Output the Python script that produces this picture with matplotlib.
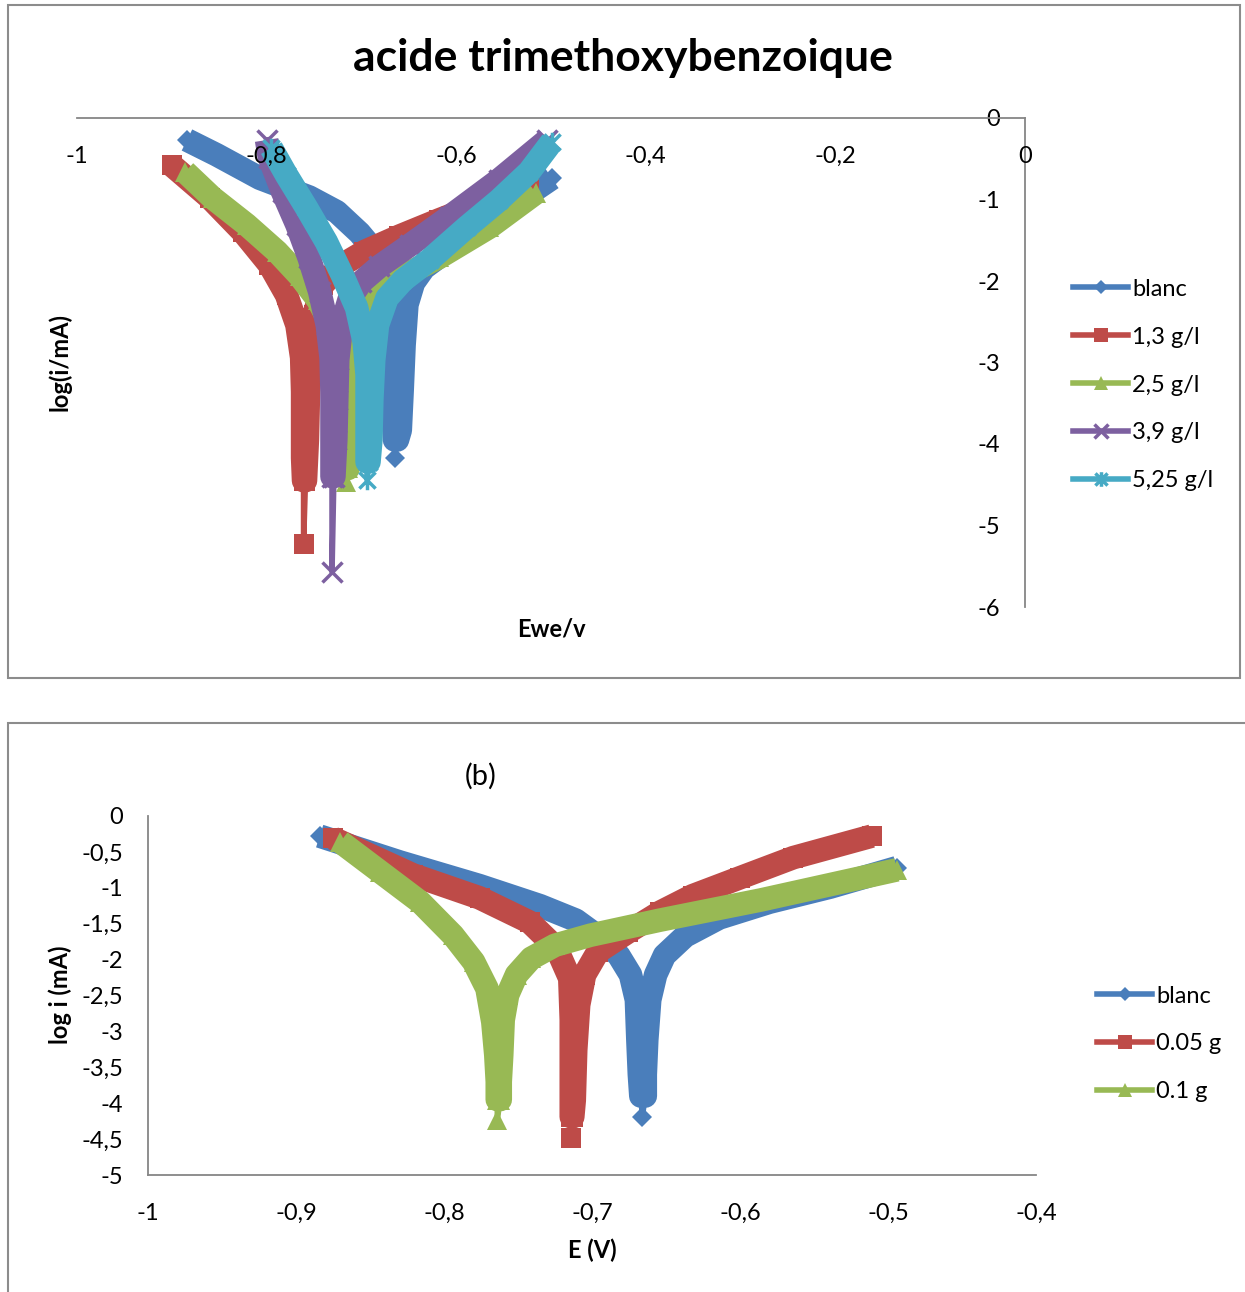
import numpy as np
import matplotlib
matplotlib.use("Agg")
import matplotlib.pyplot as plt
from matplotlib.path import Path
from matplotlib.patches import Rectangle

plt.rcParams['font.family'] = ['Lato', 'DejaVu Sans']

# ---------------- chart (a) : acide trimethoxybenzoique ----------------
a_title = 'acide trimethoxybenzoique'
a_labels = ['blanc', '1,3 g/l', '2,5 g/l', '3,9 g/l', '5,25 g/l']
a_xticks = [-1, -0.8, -0.6, -0.4, -0.2, 0]
a_xticklabels = ['-1', '-0,8', '-0,6', '-0,4', '-0,2', '0']
a_yticks = [0, -1, -2, -3, -4, -5, -6]
a_yticklabels = ['0', '-1', '-2', '-3', '-4', '-5', '-6']

a_blanc_E = [-0.884, -0.853, -0.807, -0.755, -0.726, -0.702, -0.684, -0.673, -0.667, -0.666,
             -0.666, -0.666, -0.666, -0.665, -0.665,
             -0.662, -0.659, -0.657, -0.655, -0.652, -0.645, -0.634, -0.613, -0.586, -0.555,
             -0.523, -0.499]
a_blanc_logi = [-0.27, -0.45, -0.74, -0.97, -1.15, -1.41, -1.66, -1.95, -2.27, -2.72,
                -3.21, -3.61, -3.77, -3.95, -4.17,
                -3.95, -3.83, -3.34, -2.79, -2.29, -2.02, -1.84, -1.66, -1.45, -1.18,
                -0.93, -0.74]

a_13_E = [-0.900, -0.860, -0.825, -0.797, -0.779, -0.768, -0.763, -0.762, -0.762, -0.762,
          -0.761, -0.761,
          -0.759, -0.757, -0.756, -0.754, -0.750, -0.741, -0.723, -0.697, -0.660, -0.618,
          -0.565, -0.523]
a_13_logi = [-0.58, -0.98, -1.40, -1.80, -2.17, -2.54, -2.94, -3.36, -3.77, -4.17,
             -4.45, -5.23,
             -4.45, -3.95, -3.46, -2.85, -2.42, -2.05, -1.82, -1.64, -1.45, -1.25,
             -1.01, -0.81]

a_25_E = [-0.886, -0.857, -0.821, -0.789, -0.765, -0.746, -0.732, -0.723, -0.719, -0.717,
          -0.716, -0.716, -0.716,
          -0.714, -0.713, -0.711, -0.707, -0.700, -0.686, -0.660, -0.618, -0.565, -0.516]
a_25_logi = [-0.66, -0.98, -1.31, -1.64, -1.94, -2.23, -2.54, -2.91, -3.40, -3.80,
             -4.10, -4.30, -4.47,
             -4.30, -3.95, -3.40, -2.85, -2.45, -2.18, -1.96, -1.71, -1.34, -0.92]

a_39_E = [-0.800, -0.797, -0.783, -0.768, -0.755, -0.744, -0.736, -0.732, -0.731, -0.731,
          -0.731, -0.731, -0.731,
          -0.729, -0.727, -0.726, -0.725, -0.721, -0.713, -0.700, -0.681, -0.649, -0.607,
          -0.555, -0.504]
a_39_logi = [-0.27, -0.49, -0.91, -1.31, -1.72, -2.13, -2.54, -2.94, -3.36, -3.77,
             -4.07, -4.40, -5.57,
             -4.40, -3.95, -3.46, -2.97, -2.54, -2.23, -2.01, -1.82, -1.56, -1.21,
             -0.76, -0.27]

a_525_E = [-0.795, -0.779, -0.758, -0.737, -0.720, -0.705, -0.697, -0.694, -0.694, -0.694,
           -0.694, -0.694,
           -0.692, -0.690, -0.689, -0.687, -0.683, -0.673, -0.656, -0.628, -0.589, -0.555,
           -0.523, -0.499]
a_525_logi = [-0.37, -0.70, -1.10, -1.52, -1.93, -2.33, -2.75, -3.15, -3.56, -3.95,
              -4.22, -4.44,
              -4.22, -3.95, -3.46, -2.97, -2.54, -2.21, -1.99, -1.74, -1.34, -1.01,
              -0.66, -0.29]

# ---------------- chart (b) ----------------
b_title = '(b)'
b_labels = ['blanc', '0.05 g', '0.1 g']
b_xticks = [-1, -0.9, -0.8, -0.7, -0.6, -0.5, -0.4]
b_xticklabels = ['-1', '-0,9', '-0,8', '-0,7', '-0,6', '-0,5', '-0,4']
b_yticks = [0, -0.5, -1, -1.5, -2, -2.5, -3, -3.5, -4, -4.5, -5]
b_yticklabels = ['0', '-0,5', '-1', '-1,5', '-2', '-2,5', '-3', '-3,5', '-4', '-4,5', '-5']

b_blanc_E = [-0.884, -0.830, -0.776, -0.735, -0.711, -0.695, -0.682, -0.674, -0.670, -0.669,
             -0.668, -0.667, -0.666,
             -0.664, -0.664, -0.663, -0.661, -0.657, -0.651, -0.637, -0.614, -0.580,
             -0.539, -0.494]
b_blanc_logi = [-0.28, -0.64, -0.97, -1.25, -1.45, -1.69, -1.94, -2.21, -2.56, -3.12,
                -3.60, -3.90, -4.19,
                -3.90, -3.60, -3.12, -2.56, -2.21, -1.94, -1.67, -1.42, -1.20,
                -0.99, -0.72]

b_005_E = [-0.875, -0.821, -0.776, -0.742, -0.724, -0.715, -0.714, -0.714, -0.714, -0.714,
           -0.714,
           -0.713, -0.712, -0.711, -0.709, -0.705, -0.696, -0.676, -0.654, -0.632, -0.600,
           -0.564, -0.511]
b_005_logi = [-0.31, -0.82, -1.14, -1.48, -1.84, -2.26, -2.84, -3.40, -3.82, -4.19,
              -4.48,
              -4.19, -3.96, -3.26, -2.63, -2.21, -1.89, -1.62, -1.34, -1.11, -0.86,
              -0.58, -0.28]

b_01_E = [-0.870, -0.843, -0.816, -0.794, -0.780, -0.771, -0.767, -0.765, -0.764, -0.764,
          -0.764,
          -0.762, -0.762, -0.761, -0.760, -0.757, -0.751, -0.741, -0.725, -0.701, -0.654,
          -0.586, -0.494]
b_01_logi = [-0.36, -0.78, -1.20, -1.66, -2.03, -2.40, -2.87, -3.33, -3.70, -3.95,
             -4.23,
             -3.95, -3.70, -3.33, -2.84, -2.49, -2.21, -1.98, -1.80, -1.66, -1.45,
             -1.17, -0.75]

# ---------------- styling ----------------
W, H = 1245, 1292
colors = ['#4a7ebb', '#be4b48', '#98b954', '#7d60a0', '#46aac5']
star = Path([(-0.5, -0.5), (0.5, 0.5), (-0.5, 0.5), (0.5, -0.5), (0, -0.6), (0, 0.6)],
            [Path.MOVETO, Path.LINETO] * 3)
markers = ['D', 's', '^', 'x', star]
msizes = [10, 14, 14, 14, 14]
grey = '#868686'


def fx(px):
    return px / W


def fy(py):
    return 1 - py / H


def axes_at(fig, left, top, right, bottom):
    return fig.add_axes([fx(left), fy(bottom), (right - left) / W, (bottom - top) / H])


def draw_series(ax, E, logi, k, label, z):
    E = np.asarray(E)
    logi = np.asarray(logi)
    tip = np.argmin(logi)
    c = colors[k]
    # broad band formed by the dense markers of the original
    ax.plot(np.delete(E, tip), np.delete(logi, tip), color=c, lw=17,
            solid_joinstyle='round', solid_capstyle='butt', zorder=z)
    m = markers[k]
    open_m = (m == 'x') or isinstance(m, Path)
    ln, = ax.plot(E, logi, color=c, lw=4, marker=m, ms=msizes[k], mec=c,
                  mfc='none' if open_m else c, mew=2.5 if open_m else 0,
                  label=label, zorder=z + 0.5)
    return ln


def style_legend(ax, handles, x, y):
    ax.legend(handles=handles, loc='center left', bbox_to_anchor=(fx(x), fy(y)),
              bbox_transform=fig.transFigure, frameon=False, fontsize=17, borderpad=0,
              borderaxespad=0, handlelength=2.33, handletextpad=0.17, labelspacing=1.14,
              markerscale=0.75)


fig = plt.figure(figsize=(W / 100, H / 100), dpi=100)

# frames around the two charts
fig.patches.append(Rectangle((fx(8), fy(678)), (1240 - 8) / W, (678 - 5) / H,
                             transform=fig.transFigure, fill=False, ec='#8c8c8c', lw=1.5))
fig.patches.append(Rectangle((fx(8), fy(1300)), (1260 - 8) / W, (1300 - 723) / H,
                             transform=fig.transFigure, fill=False, ec='#8c8c8c', lw=1.5))

# ---- chart (a)
ax1 = axes_at(fig, 77, 118, 1025, 607)
ax1.set_xlim(-1, 0)
ax1.set_ylim(-6, 0)
ax1.patch.set_visible(False)
a_series = [(a_blanc_E, a_blanc_logi), (a_13_E, a_13_logi), (a_25_E, a_25_logi),
            (a_39_E, a_39_logi), (a_525_E, a_525_logi)]
handles = []
for k, (E, L) in enumerate(a_series):
    handles.append(draw_series(ax1, E, L, k, a_labels[k], 2 + k))
ax1.spines['bottom'].set_position(('data', 0))
ax1.spines['left'].set_position(('data', 0))
ax1.spines['top'].set_visible(False)
ax1.spines['right'].set_visible(False)
for s in ('bottom', 'left'):
    ax1.spines[s].set_color(grey)
    ax1.spines[s].set_linewidth(1.3)
ax1.set_xticks(a_xticks, a_xticklabels)
ax1.set_yticks(a_yticks, a_yticklabels)
ax1.tick_params(axis='x', length=0, pad=20, labelsize=17)
ax1.tick_params(axis='y', length=0, pad=18, labelsize=17)
ax1.xaxis.set_zorder(20)
style_legend(ax1, handles, 1073, 385)

fig.text(fx(623), fy(58), a_title, ha='center', va='center', fontsize=32, fontweight='bold')
fig.text(fx(60), fy(362), 'log(i/mA)', ha='center', va='center', rotation=90,
         fontsize=17, fontweight='bold')
fig.text(fx(551), fy(629), 'Ewe/v', ha='center', va='center', fontsize=17, fontweight='bold')

# ---- chart (b)
ax2 = axes_at(fig, 148, 816, 1036, 1175)
ax2.set_xlim(-1, -0.4)
ax2.set_ylim(-5, 0)
ax2.patch.set_visible(False)
b_series = [(b_blanc_E, b_blanc_logi), (b_005_E, b_005_logi), (b_01_E, b_01_logi)]
handles = []
for k, (E, L) in enumerate(b_series):
    handles.append(draw_series(ax2, E, L, k, b_labels[k], 2 + k))
ax2.spines['top'].set_visible(False)
ax2.spines['right'].set_visible(False)
for s in ('bottom', 'left'):
    ax2.spines[s].set_color(grey)
    ax2.spines[s].set_linewidth(1.3)
ax2.set_xticks(b_xticks, b_xticklabels)
ax2.set_yticks(b_yticks, b_yticklabels)
ax2.tick_params(axis='x', length=0, pad=20, labelsize=17)
ax2.tick_params(axis='y', length=0, pad=18, labelsize=17)
style_legend(ax2, handles, 1097, 1044)

fig.text(fx(481), fy(776), b_title, ha='center', va='center', fontsize=21)
fig.text(fx(60), fy(995), 'log i (mA)', ha='center', va='center', rotation=90,
         fontsize=17, fontweight='bold')
fig.text(fx(592), fy(1250), 'E (V)', ha='center', va='center', fontsize=17, fontweight='bold')

fig.savefig('out.png', dpi=100)
